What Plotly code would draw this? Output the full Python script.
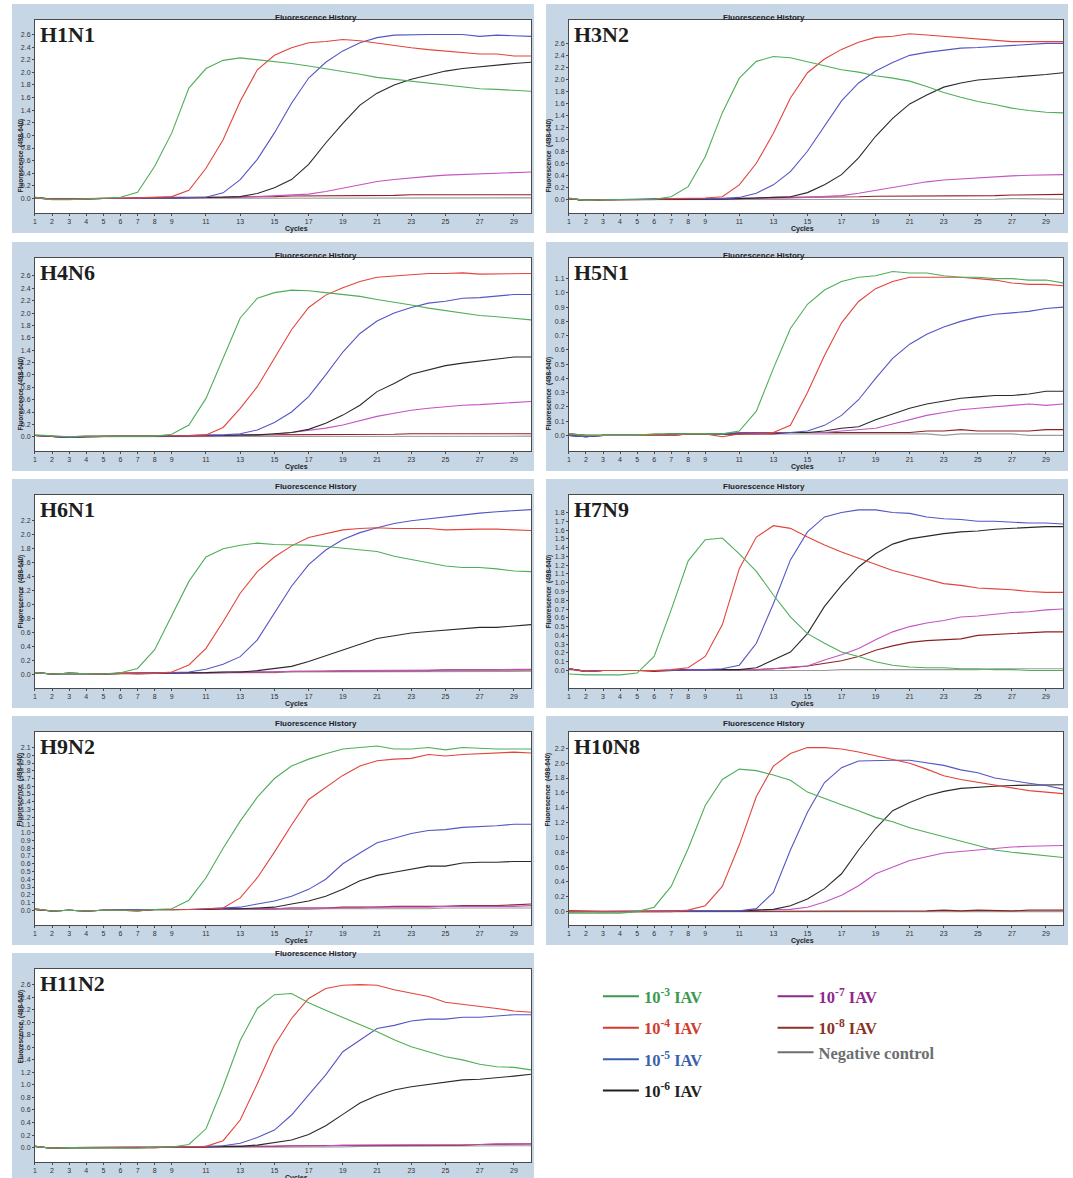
import plotly.graph_objects as go

# ---------------- data ----------------
cycles = list(range(1, 31))
panel_names = ["H1N1", "H3N2", "H4N6", "H5N1", "H6N1", "H7N9", "H9N2", "H10N8", "H11N2"]
series_names = ["10<sup>-3</sup> IAV", "10<sup>-4</sup> IAV", "10<sup>-5</sup> IAV", "10<sup>-6</sup> IAV",
                "10<sup>-7</sup> IAV", "10<sup>-8</sup> IAV", "Negative control"]

# y-axis ranges and tick steps per panel
y_ranges = [[-0.23, 2.83], [-0.22, 3.0], [-0.23, 2.89], [-0.11, 1.245], [-0.2, 2.57],
            [-0.2, 2.0], [-0.19, 2.3], [-0.18, 2.42], [-0.23, 2.85]]
y_tick_max = [2.6, 2.6, 2.6, 1.1, 2.2, 1.8, 2.1, 2.2, 2.6]
y_tick_step = [0.2, 0.2, 0.2, 0.1, 0.2, 0.1, 0.1, 0.2, 0.2]
x_tickvals = [1, 2, 3, 4, 5, 6, 7, 8, 9, 11, 13, 15, 17, 19, 21, 23, 25, 27, 29]

# H1N1
h1n1_g = [0.02,-0.02,-0.02,-0.01,0.0,0.02,0.10,0.51,1.04,1.75,2.06,2.19,2.23,2.20,2.18,2.14,2.10,2.06,2.01,1.97,1.92,1.89,1.86,1.83,1.81,1.78,1.74,1.73,1.72,1.70]
h1n1_r = [0.01,-0.01,-0.01,0.0,0.0,0.01,0.01,0.02,0.03,0.13,0.48,0.93,1.54,2.04,2.27,2.39,2.47,2.49,2.52,2.50,2.46,2.42,2.39,2.36,2.34,2.32,2.29,2.29,2.26,2.26]
h1n1_b = [0.01,-0.01,-0.01,0.0,0.0,0.0,0.01,0.01,0.01,0.01,0.02,0.09,0.30,0.62,1.04,1.51,1.91,2.16,2.34,2.47,2.55,2.59,2.60,2.60,2.60,2.60,2.57,2.59,2.58,2.57]
h1n1_k = [0.02,-0.01,-0.01,0.0,0.0,0.0,0.01,0.01,0.01,0.01,0.02,0.02,0.03,0.08,0.17,0.30,0.54,0.88,1.19,1.48,1.67,1.80,1.89,1.96,2.02,2.06,2.09,2.12,2.14,2.16]
h1n1_p = [0.01,-0.01,-0.01,0.0,0.0,0.0,0.01,0.01,0.01,0.01,0.02,0.02,0.02,0.03,0.04,0.05,0.07,0.11,0.16,0.21,0.27,0.30,0.33,0.35,0.37,0.38,0.39,0.40,0.41,0.42]
h1n1_n = [0.01,-0.01,-0.01,0.0,0.0,0.0,0.01,0.01,0.02,0.02,0.02,0.02,0.03,0.03,0.03,0.04,0.04,0.04,0.05,0.05,0.05,0.05,0.06,0.06,0.06,0.06,0.06,0.06,0.06,0.06]
h1n1_c = [0.01,-0.01,-0.01,0.0,0.0,0.0,0.0,0.0,0.0,0.0,0.0,0.01,0.01,0.01,0.01,0.01,0.01,0.01,0.01,0.01,0.01,0.01,0.01,0.0,0.0,0.01,0.01,0.01,0.01,0.01]

# H3N2
h3n2_g = [0.03,-0.01,0.0,0.01,0.01,0.01,0.05,0.22,0.72,1.45,2.03,2.31,2.39,2.37,2.30,2.23,2.17,2.13,2.07,2.03,1.98,1.89,1.79,1.71,1.64,1.59,1.53,1.49,1.46,1.45]
h3n2_r = [0.02,-0.01,0.0,0.0,0.01,0.01,0.02,0.02,0.03,0.05,0.25,0.61,1.11,1.70,2.12,2.35,2.51,2.63,2.71,2.73,2.77,2.75,2.73,2.70,2.68,2.67,2.64,2.64,2.64,2.64]
h3n2_b = [0.02,-0.01,0.0,0.0,0.01,0.02,0.02,0.02,0.02,0.02,0.04,0.11,0.25,0.47,0.81,1.22,1.65,1.95,2.15,2.29,2.41,2.46,2.49,2.53,2.54,2.56,2.58,2.60,2.61,2.61]
h3n2_k = [0.02,-0.01,0.0,0.0,0.0,0.01,0.01,0.01,0.01,0.01,0.02,0.03,0.04,0.05,0.12,0.25,0.42,0.70,1.06,1.36,1.60,1.75,1.88,1.95,2.00,2.02,2.05,2.07,2.09,2.12]
h3n2_p = [0.02,-0.01,0.0,0.0,0.0,0.01,0.01,0.01,0.01,0.01,0.02,0.02,0.03,0.03,0.04,0.05,0.07,0.11,0.16,0.21,0.26,0.30,0.33,0.35,0.37,0.38,0.40,0.41,0.42,0.42]
h3n2_n = [0.02,-0.01,0.0,0.0,0.0,0.01,0.01,0.01,0.02,0.02,0.02,0.03,0.04,0.04,0.04,0.05,0.05,0.05,0.06,0.06,0.06,0.06,0.07,0.07,0.07,0.07,0.08,0.08,0.08,0.09]
h3n2_c = [0.02,-0.01,0.0,0.0,0.0,0.0,0.0,0.0,0.0,0.0,0.0,0.0,0.01,0.01,0.01,0.01,0.01,0.01,0.01,0.01,0.01,0.01,0.01,0.01,0.01,0.01,0.02,0.02,0.02,0.01]

# H4N6
h4n6_g = [0.03,0.01,0.0,0.01,0.01,0.01,0.01,0.01,0.04,0.19,0.62,1.27,1.92,2.24,2.33,2.37,2.36,2.33,2.30,2.27,2.22,2.18,2.13,2.08,2.04,2.00,1.96,1.94,1.91,1.89]
h4n6_r = [0.02,0.01,0.0,0.01,0.01,0.01,0.01,0.01,0.02,0.02,0.03,0.15,0.46,0.81,1.27,1.73,2.09,2.29,2.41,2.51,2.58,2.60,2.63,2.64,2.64,2.65,2.63,2.63,2.64,2.64]
h4n6_b = [0.02,0.01,-0.01,0.0,0.01,0.01,0.01,0.01,0.02,0.02,0.03,0.03,0.05,0.11,0.23,0.40,0.65,1.00,1.37,1.67,1.87,2.00,2.09,2.16,2.19,2.24,2.25,2.28,2.30,2.30]
h4n6_k = [0.02,0.01,-0.01,0.0,0.01,0.01,0.01,0.01,0.02,0.02,0.02,0.02,0.03,0.03,0.05,0.07,0.12,0.22,0.35,0.51,0.73,0.86,1.01,1.08,1.15,1.19,1.22,1.26,1.29,1.29]
h4n6_p = [0.02,0.01,-0.01,0.0,0.01,0.01,0.01,0.01,0.02,0.02,0.02,0.02,0.02,0.03,0.04,0.07,0.10,0.14,0.19,0.26,0.33,0.38,0.43,0.46,0.49,0.51,0.52,0.54,0.55,0.57]
h4n6_n = [0.02,0.01,-0.01,0.0,0.01,0.01,0.01,0.01,0.02,0.02,0.02,0.02,0.02,0.03,0.03,0.03,0.03,0.04,0.04,0.04,0.04,0.04,0.05,0.05,0.05,0.05,0.05,0.05,0.05,0.05]
h4n6_c = [0.02,0.01,-0.01,0.0,0.0,0.0,0.0,0.0,0.01,0.01,0.01,0.01,0.01,0.01,0.01,0.01,0.0,0.0,0.01,0.01,0.01,0.01,0.01,0.01,0.01,0.01,0.01,0.01,0.01,0.01]

# H5N1
h5n1_g = [0.01,0.0,0.0,0.0,0.0,0.01,0.01,0.01,0.01,0.01,0.03,0.17,0.47,0.75,0.92,1.02,1.08,1.11,1.12,1.15,1.14,1.14,1.12,1.11,1.11,1.10,1.10,1.09,1.09,1.07]
h5n1_r = [0.01,0.0,0.0,0.0,0.0,0.0,0.0,0.01,0.01,-0.01,0.01,0.01,0.02,0.07,0.30,0.56,0.79,0.94,1.03,1.08,1.11,1.11,1.11,1.11,1.10,1.09,1.07,1.06,1.06,1.05]
h5n1_b = [0.0,-0.01,0.0,0.0,0.0,0.0,0.01,0.01,0.01,0.01,0.02,0.02,0.02,0.02,0.03,0.07,0.14,0.25,0.40,0.54,0.64,0.71,0.76,0.80,0.83,0.85,0.86,0.87,0.89,0.90]
h5n1_k = [0.0,-0.01,0.0,0.0,0.0,0.0,0.01,0.01,0.01,0.01,0.01,0.02,0.02,0.02,0.02,0.03,0.05,0.06,0.11,0.15,0.19,0.22,0.24,0.26,0.27,0.28,0.28,0.29,0.31,0.31]
h5n1_p = [0.0,-0.01,0.0,0.0,0.0,0.0,0.01,0.01,0.01,0.01,0.01,0.02,0.02,0.02,0.02,0.02,0.03,0.04,0.05,0.08,0.11,0.14,0.16,0.18,0.19,0.20,0.21,0.22,0.21,0.22]
h5n1_n = [0.01,0.0,0.0,0.0,0.0,0.0,0.0,0.01,0.01,0.01,0.01,0.01,0.01,0.02,0.02,0.02,0.02,0.02,0.02,0.02,0.02,0.03,0.03,0.04,0.03,0.03,0.03,0.03,0.04,0.04]
h5n1_c = [0.0,-0.01,0.0,0.0,0.0,0.0,0.0,0.01,0.01,0.01,0.01,0.01,0.01,0.01,0.01,0.01,0.01,0.01,0.01,0.01,0.01,0.01,0.0,0.01,0.01,0.01,0.01,0.0,0.0,0.0]

# H6N1
h6n1_g = [0.02,0.0,0.01,0.0,0.0,0.02,0.08,0.35,0.83,1.33,1.68,1.80,1.85,1.88,1.86,1.86,1.85,1.83,1.81,1.79,1.76,1.69,1.64,1.60,1.55,1.53,1.53,1.51,1.48,1.47]
h6n1_r = [0.02,0.0,0.01,0.0,0.0,0.01,0.01,0.01,0.03,0.13,0.37,0.75,1.16,1.47,1.68,1.84,1.96,2.02,2.07,2.09,2.10,2.09,2.09,2.09,2.07,2.08,2.08,2.08,2.07,2.06]
h6n1_b = [0.02,0.0,0.01,0.0,0.0,0.01,0.01,0.02,0.02,0.03,0.07,0.14,0.25,0.49,0.87,1.26,1.57,1.78,1.93,2.03,2.10,2.16,2.20,2.23,2.26,2.28,2.31,2.33,2.35,2.36]
h6n1_k = [0.02,0.0,0.01,0.0,0.0,0.01,0.01,0.02,0.02,0.02,0.02,0.03,0.03,0.05,0.08,0.11,0.18,0.26,0.35,0.43,0.51,0.55,0.59,0.61,0.63,0.66,0.67,0.67,0.69,0.71]
h6n1_p = [0.02,0.0,0.01,0.0,0.0,0.01,0.01,0.01,0.02,0.02,0.02,0.02,0.03,0.03,0.03,0.04,0.04,0.04,0.05,0.05,0.05,0.05,0.05,0.06,0.06,0.06,0.06,0.06,0.07,0.07]
h6n1_n = [0.02,0.0,0.01,0.0,0.0,0.01,0.0,0.01,0.02,0.02,0.02,0.02,0.02,0.03,0.03,0.04,0.04,0.04,0.05,0.05,0.05,0.05,0.05,0.05,0.06,0.06,0.06,0.06,0.06,0.06]
h6n1_c = [0.02,0.0,0.01,0.0,0.0,0.01,0.01,0.01,0.01,0.02,0.02,0.02,0.02,0.02,0.02,0.03,0.03,0.03,0.03,0.03,0.03,0.03,0.03,0.03,0.04,0.04,0.04,0.04,0.04,0.04]

# H7N9
h7n9_g = [-0.04,-0.05,-0.05,-0.05,-0.03,0.16,0.69,1.25,1.49,1.51,1.33,1.13,0.86,0.61,0.42,0.31,0.21,0.16,0.10,0.06,0.04,0.03,0.03,0.02,0.02,0.01,0.01,0.0,0.0,0.0]
h7n9_r = [0.02,-0.01,0.0,0.0,0.0,0.0,0.01,0.03,0.16,0.52,1.16,1.52,1.65,1.62,1.52,1.43,1.35,1.28,1.21,1.14,1.09,1.04,0.99,0.97,0.94,0.93,0.92,0.90,0.89,0.89]
h7n9_b = [0.02,-0.01,0.0,0.0,0.0,0.0,0.0,0.01,0.01,0.02,0.06,0.31,0.76,1.26,1.58,1.75,1.80,1.83,1.83,1.80,1.79,1.75,1.73,1.72,1.70,1.70,1.69,1.68,1.68,1.67]
h7n9_k = [0.02,-0.01,0.0,0.0,0.0,0.0,0.0,0.01,0.01,0.01,0.01,0.03,0.12,0.21,0.42,0.73,0.97,1.18,1.33,1.44,1.50,1.53,1.56,1.58,1.59,1.61,1.62,1.63,1.64,1.64]
h7n9_p = [0.02,-0.01,0.0,0.0,0.0,0.0,0.0,0.0,0.01,0.01,0.01,0.01,0.02,0.04,0.05,0.12,0.18,0.25,0.35,0.44,0.50,0.54,0.57,0.61,0.62,0.64,0.66,0.67,0.69,0.70]
h7n9_n = [0.02,-0.01,0.0,0.0,0.0,-0.01,0.0,0.01,0.01,0.01,0.01,0.01,0.02,0.03,0.05,0.08,0.11,0.16,0.23,0.28,0.32,0.34,0.35,0.36,0.40,0.41,0.42,0.43,0.44,0.44]
h7n9_c = [0.01,-0.01,0.0,0.0,0.0,0.0,0.0,0.0,0.0,0.0,0.0,0.0,0.0,0.0,0.0,0.0,0.01,0.01,0.01,0.01,0.01,0.01,0.01,0.01,0.01,0.02,0.02,0.02,0.02,0.02]

# H9N2
h9n2_g = [0.02,-0.01,0.0,-0.01,0.0,0.0,0.0,0.01,0.02,0.13,0.42,0.80,1.15,1.46,1.70,1.86,1.95,2.02,2.08,2.10,2.12,2.08,2.08,2.10,2.07,2.10,2.09,2.08,2.08,2.08]
h9n2_r = [0.01,-0.01,0.0,-0.01,0.0,0.0,-0.01,0.01,0.01,0.01,0.02,0.03,0.16,0.42,0.75,1.10,1.43,1.59,1.74,1.86,1.93,1.95,1.96,2.01,1.99,2.01,2.02,2.03,2.04,2.03]
h9n2_b = [0.01,-0.01,0.0,-0.01,0.0,0.01,0.01,0.01,0.01,0.01,0.02,0.03,0.04,0.08,0.12,0.18,0.27,0.40,0.60,0.74,0.87,0.93,0.99,1.03,1.04,1.07,1.08,1.09,1.11,1.11]
h9n2_k = [0.01,-0.01,0.0,-0.01,0.0,0.0,0.0,0.01,0.01,0.01,0.01,0.02,0.02,0.03,0.04,0.08,0.12,0.18,0.27,0.38,0.45,0.49,0.53,0.57,0.57,0.61,0.62,0.62,0.63,0.63]
h9n2_p = [0.01,-0.01,0.0,-0.01,0.0,0.0,0.0,0.01,0.01,0.01,0.01,0.01,0.02,0.02,0.02,0.03,0.03,0.03,0.03,0.03,0.04,0.04,0.04,0.04,0.05,0.05,0.05,0.05,0.05,0.06]
h9n2_n = [0.02,-0.01,0.0,-0.01,0.0,0.0,-0.01,0.01,0.01,0.01,0.01,0.02,0.02,0.02,0.02,0.03,0.03,0.03,0.04,0.04,0.04,0.05,0.05,0.05,0.05,0.06,0.06,0.06,0.07,0.08]
h9n2_c = [0.01,-0.01,0.0,-0.01,0.0,0.0,0.0,0.0,0.0,0.01,0.01,0.01,0.01,0.01,0.01,0.01,0.01,0.02,0.02,0.02,0.02,0.02,0.02,0.02,0.03,0.03,0.03,0.03,0.03,0.03]

# H10N8
h10n8_g = [-0.02,-0.02,-0.02,-0.02,0.0,0.06,0.34,0.85,1.43,1.78,1.92,1.90,1.84,1.77,1.61,1.52,1.44,1.36,1.27,1.21,1.13,1.07,1.01,0.94,0.88,0.83,0.80,0.78,0.76,0.73]
h10n8_r = [0.0,0.0,0.0,0.0,0.0,0.0,0.0,0.02,0.08,0.34,0.90,1.55,1.96,2.13,2.21,2.21,2.19,2.15,2.10,2.06,2.00,1.92,1.83,1.78,1.74,1.70,1.67,1.63,1.61,1.59]
h10n8_b = [0.0,0.0,0.0,0.0,0.0,0.0,0.0,0.0,0.0,0.0,0.01,0.04,0.26,0.83,1.34,1.74,1.94,2.03,2.04,2.04,2.04,2.01,1.97,1.91,1.87,1.80,1.76,1.73,1.70,1.65]
h10n8_k = [0.0,0.0,0.0,0.0,0.0,0.0,0.0,0.0,0.0,0.01,0.01,0.02,0.03,0.08,0.17,0.31,0.51,0.83,1.12,1.36,1.47,1.56,1.62,1.66,1.68,1.69,1.70,1.70,1.71,1.71]
h10n8_p = [0.0,0.0,0.0,0.0,0.0,0.0,0.0,0.0,0.0,0.0,0.01,0.02,0.02,0.03,0.06,0.13,0.22,0.35,0.51,0.60,0.69,0.74,0.79,0.81,0.83,0.86,0.87,0.88,0.89,0.89]
h10n8_n = [0.01,0.0,0.0,0.0,0.0,0.0,0.0,0.0,0.0,0.0,0.0,0.0,0.0,0.01,0.01,0.01,0.01,0.01,0.01,0.01,0.01,0.01,0.02,0.01,0.02,0.01,0.01,0.02,0.02,0.02]
h10n8_c = [0.01,0.0,0.0,0.0,0.0,0.0,0.0,0.0,0.0,0.0,0.0,0.0,0.0,0.0,0.0,0.0,0.0,0.0,0.0,0.0,0.0,0.0,0.0,0.0,0.0,0.0,0.0,0.0,0.0,0.0]

# H11N2
h11n2_g = [0.02,-0.01,0.0,0.0,0.0,0.0,-0.01,0.01,0.01,0.05,0.30,0.97,1.71,2.22,2.44,2.46,2.31,2.19,2.08,1.97,1.85,1.72,1.61,1.53,1.45,1.40,1.33,1.29,1.28,1.24]
h11n2_r = [0.02,-0.01,0.0,0.0,0.0,0.0,-0.01,0.0,0.01,0.01,0.02,0.11,0.44,1.02,1.63,2.06,2.38,2.54,2.59,2.60,2.59,2.52,2.47,2.41,2.32,2.29,2.25,2.22,2.18,2.16]
h11n2_b = [0.02,-0.01,0.0,0.0,0.0,0.0,0.0,0.01,0.01,0.01,0.02,0.03,0.07,0.16,0.28,0.52,0.84,1.16,1.53,1.71,1.90,1.95,2.02,2.05,2.05,2.08,2.08,2.10,2.12,2.12]
h11n2_k = [0.02,-0.01,0.0,0.0,0.0,0.0,0.0,0.01,0.01,0.01,0.01,0.02,0.02,0.04,0.08,0.12,0.21,0.35,0.53,0.71,0.83,0.92,0.97,1.01,1.04,1.08,1.09,1.11,1.14,1.17]
h11n2_p = [0.02,-0.01,0.0,0.0,0.01,0.0,0.0,0.01,0.01,0.01,0.01,0.02,0.02,0.02,0.03,0.03,0.03,0.03,0.04,0.04,0.04,0.05,0.05,0.05,0.05,0.05,0.05,0.06,0.06,0.06]
h11n2_n = [0.02,-0.01,0.0,0.0,0.0,0.0,-0.01,0.0,0.01,0.01,0.01,0.01,0.01,0.02,0.02,0.03,0.03,0.03,0.03,0.03,0.04,0.04,0.04,0.04,0.04,0.04,0.05,0.05,0.05,0.06]
h11n2_c = [0.02,-0.01,0.0,0.0,0.0,0.0,0.0,0.0,0.0,0.01,0.01,0.01,0.01,0.01,0.01,0.01,0.01,0.01,0.01,0.02,0.02,0.02,0.02,0.02,0.02,0.03,0.03,0.03,0.03,0.03]

panel_data = [
    [h1n1_g, h1n1_r, h1n1_b, h1n1_k, h1n1_p, h1n1_n, h1n1_c],
    [h3n2_g, h3n2_r, h3n2_b, h3n2_k, h3n2_p, h3n2_n, h3n2_c],
    [h4n6_g, h4n6_r, h4n6_b, h4n6_k, h4n6_p, h4n6_n, h4n6_c],
    [h5n1_g, h5n1_r, h5n1_b, h5n1_k, h5n1_p, h5n1_n, h5n1_c],
    [h6n1_g, h6n1_r, h6n1_b, h6n1_k, h6n1_p, h6n1_n, h6n1_c],
    [h7n9_g, h7n9_r, h7n9_b, h7n9_k, h7n9_p, h7n9_n, h7n9_c],
    [h9n2_g, h9n2_r, h9n2_b, h9n2_k, h9n2_p, h9n2_n, h9n2_c],
    [h10n8_g, h10n8_r, h10n8_b, h10n8_k, h10n8_p, h10n8_n, h10n8_c],
    [h11n2_g, h11n2_r, h11n2_b, h11n2_k, h11n2_p, h11n2_n, h11n2_c],
]

# ---------------- styling ----------------
line_colors = ["#4fae5a", "#e2443b", "#5456c4", "#2a2a2a", "#c453c4", "#8e2222", "#9a9a9a"]
legend_colors = ["#3a9a4f", "#d23c2e", "#3b5fae", "#231f20", "#8c2a8c", "#8a3324", "#6c6f71"]
legend_groups = ["g0", "g1", "g2", "g3", "g4", "g5", "g5"]
panel_bg = "#c7d6e5"

W, H = 1073, 1178
col_x = [(33, 530), (568, 1063)]
outer_x = [(10, 533), (545, 1068)]
row_top = [20, 258, 495, 732, 969]
plot_h = 193

fig = go.Figure()
shapes = []
annotations = []
layout_axes = {}

for i, name in enumerate(panel_names):
    r, c = divmod(i, 2)
    n = i + 1
    xs = "x" if n == 1 else f"x{n}"
    ys = "y" if n == 1 else f"y{n}"
    x0, x1 = col_x[c]
    top = row_top[r]
    bot = top + plot_h
    oy0 = top - 16
    oy1 = min(bot + 20, H)
    shapes.append(dict(type="rect", xref="paper", yref="paper", layer="below",
                       x0=outer_x[c][0] / W, x1=outer_x[c][1] / W,
                       y0=1 - oy1 / H, y1=1 - oy0 / H,
                       fillcolor=panel_bg, line=dict(width=0)))
    shapes.append(dict(type="rect", xref=f"{xs} domain", yref=f"{ys} domain", layer="below",
                       x0=0, x1=1, y0=0, y1=1, fillcolor="white", line=dict(width=0)))
    data = panel_data[i]
    for s in [6, 5, 4, 3, 2, 1, 0]:
        fig.add_trace(go.Scatter(x=cycles, y=data[s], mode="lines", xaxis=xs, yaxis=ys,
                                 line=dict(color=line_colors[s], width=1.1),
                                 name=series_names[s], showlegend=False, hoverinfo="skip"))
    nt = int(round(y_tick_max[i] / y_tick_step[i]))
    yt = [round(k * y_tick_step[i], 2) for k in range(nt + 1)]
    axis_common = dict(showgrid=False, zeroline=False, showline=True, mirror=True,
                       linecolor="#4a4a4a", linewidth=1, ticks="outside", ticklen=2,
                       tickcolor="#4a4a4a", tickfont=dict(family="Liberation Sans", size=7, color="#333"))
    layout_axes["xaxis" if n == 1 else f"xaxis{n}"] = dict(
        axis_common, domain=[x0 / W, x1 / W], range=[1, 30], tickmode="array",
        tickvals=x_tickvals, anchor=ys)
    layout_axes["yaxis" if n == 1 else f"yaxis{n}"] = dict(
        axis_common, domain=[1 - bot / H, 1 - top / H], range=y_ranges[i], tickmode="array",
        tickvals=yt, tickformat=".1f", anchor=xs)
    annotations.append(dict(xref="paper", yref="paper", x=(outer_x[c][0] + outer_x[c][1]) / 2 / W,
                            y=1 - (top - 9) / H, text="<b>Fluorescence History</b>", showarrow=False,
                            font=dict(family="Liberation Sans", size=8, color="#222")))
    annotations.append(dict(xref="paper", yref="paper", x=(x0 + x1) / 2 / W, y=1 - (bot + 16) / H,
                            yanchor="middle", text="<b>Cycles</b>", showarrow=False,
                            font=dict(family="Liberation Sans", size=7, color="#222")))
    annotations.append(dict(xref="paper", yref="paper", x=(x0 - 20) / W, y=1 - (top + bot) / 2 / H,
                            text="<b>Fluorescence  (498-640)</b>", showarrow=False, textangle=-90,
                            font=dict(family="Liberation Sans", size=6.5, color="#222")))
    annotations.append(dict(xref=f"{xs} domain", yref=f"{ys} domain", x=0.006, y=1.0,
                            xanchor="left", yanchor="top", text=f"<b>{name}</b>", showarrow=False,
                            font=dict(family="Liberation Serif", size=22, color="#1e1e1e")))

# legend entries
for s in range(7):
    fig.add_trace(go.Scatter(x=[None], y=[None], mode="lines", xaxis="x", yaxis="y",
                             line=dict(color=legend_colors[s], width=2),
                             name=f"<span style='color:{legend_colors[s]}'><b>{series_names[s]}</b></span>",
                             legend="legend" if s < 4 else "legend2", legendgroup=legend_groups[s],
                             showlegend=True, hoverinfo="skip"))

legend_common = dict(xanchor="left", yanchor="top", bgcolor="rgba(0,0,0,0)", borderwidth=0,
                     font=dict(family="Liberation Serif", size=16.5), tracegroupgap=7,
                     itemwidth=36, traceorder="grouped")

fig.update_layout(
    width=W, height=H, autosize=False,
    margin=dict(l=0, r=0, t=0, b=0),
    paper_bgcolor="white", plot_bgcolor="white",
    shapes=shapes, annotations=annotations,
    legend=dict(legend_common, x=597 / W, y=1 - 979 / H),
    legend2=dict(legend_common, x=772 / W, y=1 - 979 / H),
    **layout_axes,
)

fig.write_html("out.html", config={"displayModeBar": False},
               post_script="document.body.style.margin='0';document.body.style.overflow='hidden';")
